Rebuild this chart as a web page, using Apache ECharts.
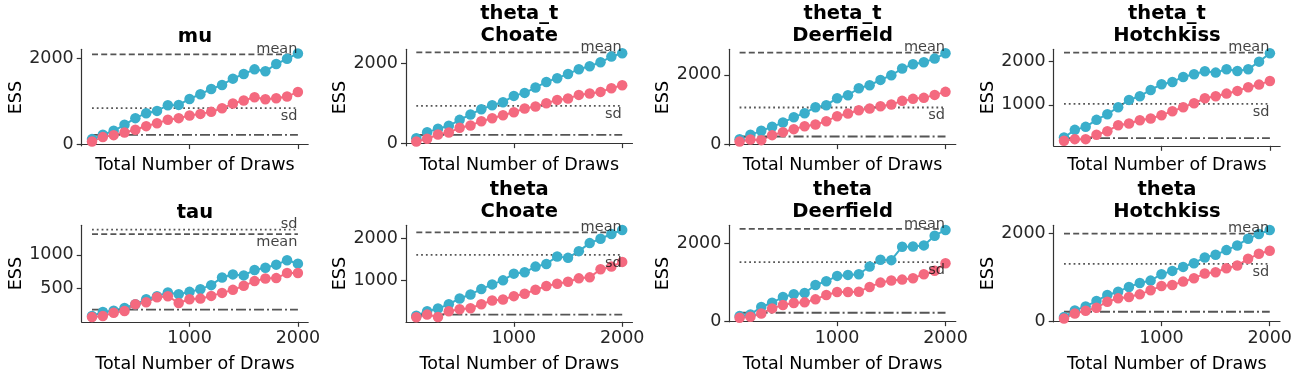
<!DOCTYPE html>
<html>
<head>
<meta charset="utf-8">
<script src="https://cdn.jsdelivr.net/npm/echarts@6/dist/echarts.min.js"></script>
<style>
html,body{margin:0;padding:0;background:#fff;}
#chart{width:1295px;height:376px;}
</style>
</head>
<body>
<div id="chart"></div>
<script>
// x values: total number of draws
const draws = [100,200,300,400,500,600,700,800,900,1000,1100,1200,1300,1400,1500,1600,1700,1800,1900,2000];

const titles = ['mu','theta_t\nChoate','theta_t\nDeerfield','theta_t\nHotchkiss',
                'tau','theta\nChoate','theta\nDeerfield','theta\nHotchkiss'];

// bulk (blue) and tail (red) ESS per panel
const bulk_mu = [116,217,310,450,605,721,775,907,915,1054,1163,1287,1380,1527,1636,1744,1698,1868,1992,2116];
const tail_mu = [62,163,209,271,333,419,488,566,605,667,705,752,837,946,1016,1093,1047,1070,1109,1217];
const bulk_tt_choate = [125,275,358,433,583,717,850,950,1025,1183,1258,1392,1533,1625,1733,1850,1925,2025,2167,2250];
const tail_tt_choate = [42,108,217,267,383,442,550,625,700,775,867,917,1000,1083,1117,1208,1242,1283,1375,1450];
const bulk_tt_deerfield = [144,269,385,500,625,779,894,1067,1125,1327,1413,1615,1702,1856,1990,2183,2308,2365,2471,2625];
const tail_tt_deerfield = [77,135,115,260,346,433,519,567,663,808,885,981,1029,1096,1144,1250,1308,1337,1423,1510];
const bulk_tt_hotchkiss = [246,423,492,654,785,946,1115,1200,1346,1477,1531,1646,1708,1777,1746,1823,1785,1823,2000,2192];
const tail_tt_hotchkiss = [169,208,208,308,392,531,569,646,685,762,854,946,1038,1154,1200,1261,1323,1408,1469,1554];
const bulk_tau = [90,150,170,210,265,340,385,440,415,450,490,550,665,710,695,775,810,855,920,870];
const tail_tau = [75,90,140,165,265,295,370,385,285,340,350,390,435,480,540,610,650,655,730,730];
const bulk_t_choate = [150,256,320,424,560,656,784,896,992,1152,1184,1320,1384,1560,1528,1688,1880,1984,2096,2192];
const tail_t_choate = [115,176,120,256,304,328,424,512,536,616,672,768,856,912,960,1040,1064,1256,1320,1432];
const bulk_t_deerfield = [129,172,361,472,618,687,721,927,1021,1159,1185,1202,1399,1571,1562,1906,1914,1940,2189,2335];
const tail_t_deerfield = [86,112,197,326,412,464,481,558,670,747,747,755,876,987,1039,1064,1099,1202,1288,1485];
const bulk_t_hotchkiss = [92,245,337,460,598,674,782,874,927,1073,1149,1241,1326,1456,1517,1625,1732,1885,1992,2084];
const tail_t_hotchkiss = [61,176,238,307,444,521,552,613,705,805,828,904,981,1088,1119,1211,1272,1425,1540,1609];

// reference lines
const essMean = [2093,2275,2644,2208,1310,2136,2361,2000];
const essSd   = [837,933,1058,1023,1375,1600,1511,1310];
const minEss  = [217,208,221,230,185,176,215,215];

// axis ranges and ticks
const yMin = [-40,-67,-48,54,5,5,-17,-15];
const yMax = [2212,2350,2740,2285,1440,2304,2455,2192];
const yTicks = [[0,2000],[0,2000],[0,2000],[1000,2000],[500,1000],[1000,2000],[0,2000],[0,2000]];
const xTicks = [1000,2000];

const bulkList = [bulk_mu,bulk_tt_choate,bulk_tt_deerfield,bulk_tt_hotchkiss,bulk_tau,bulk_t_choate,bulk_t_deerfield,bulk_t_hotchkiss];
const tailList = [tail_mu,tail_tt_choate,tail_tt_deerfield,tail_tt_hotchkiss,tail_tau,tail_t_choate,tail_t_deerfield,tail_t_hotchkiss];

const FONT = 'DejaVu Sans';
const BLUE = '#3aaecb', RED = '#f4697f', REF = '#555555', SPINE = '#333333', TXT = '#262626';
const lefts = [81.7,406,729.3,1053.7], tops = [49.3,225.3];
const W = 226.5, H = 96.5;

let chart = echarts.init(document.getElementById('chart'));
let grid=[], xAxis=[], yAxis=[], series=[], title=[];
const plain = v => String(v);

for (let i=0;i<8;i++){
  let r = Math.floor(i/4), c = i%4;
  grid.push({left:lefts[c], top:tops[r], width:W, height:H});
  title.push({
    text: titles[i], left: lefts[c]+W/2, textAlign:'center',
    top: titles[i].indexOf('\n')>=0 ? tops[r]-46.5 : tops[r]-23,
    padding:0,
    textStyle:{fontFamily:FONT, fontSize:19.5, fontWeight:'bold', color:'#000', lineHeight:22}
  });
  xAxis.push({
    gridIndex:i, type:'value', min:5, max:2095,
    axisLine:{show:true, lineStyle:{color:SPINE, width:1.2}},
    axisTick:{show:true, customValues:xTicks, length:5, lineStyle:{color:SPINE, width:1.2}},
    axisLabel:{show:r==1, customValues:xTicks, formatter:plain, fontFamily:FONT, fontSize:17.5, color:TXT, margin:8},
    splitLine:{show:false},
    name:'Total Number of Draws', nameLocation:'middle', nameGap: r==0 ? 11 : 34,
    nameTextStyle:{fontFamily:FONT, fontSize:17.5, color:'#000'}
  });
  yAxis.push({
    gridIndex:i, type:'value', min:yMin[i], max:yMax[i],
    axisLine:{show:true, lineStyle:{color:SPINE, width:1.2}},
    axisTick:{show:true, customValues:yTicks[i], length:5, lineStyle:{color:SPINE, width:1.2}},
    axisLabel:{customValues:yTicks[i], formatter:plain, fontFamily:FONT, fontSize:17.5, color:TXT, margin:8},
    splitLine:{show:false},
    name:'ESS', nameLocation:'middle', nameGap:55,
    nameTextStyle:{fontFamily:FONT, fontSize:17.5, color:'#000'}
  });

  const pts = arr => draws.map((d,k)=>[d, arr[k]]);
  const x0 = draws[0], x1 = draws[draws.length-1];
  series.push({
    type:'line', xAxisIndex:i, yAxisIndex:i, data:pts(bulkList[i]),
    symbol:'circle', symbolSize:10.5, color:BLUE, lineStyle:{width:2, color:BLUE},
    itemStyle:{color:BLUE}, silent:true
  });
  series.push({
    type:'line', xAxisIndex:i, yAxisIndex:i, data:pts(tailList[i]),
    symbol:'circle', symbolSize:10.5, color:RED, lineStyle:{width:2, color:RED},
    itemStyle:{color:RED}, silent:true
  });
  const ref = (v, dash) => ({
    type:'line', xAxisIndex:i, yAxisIndex:i, data:[[x0,v],[x1,v]],
    symbol:'none', lineStyle:{width:1.8, color:REF, type:dash}, silent:true
  });
  series.push(ref(essMean[i], [6,3.2]));
  series.push(ref(essSd[i], [1.8,3]));
  series.push(ref(minEss[i], [10,3,2,3]));

  // text labels: upper line gets label above, lower line below
  const meanUp = essMean[i] >= essSd[i];
  const lab = (txt, up) => ({
    show:true, formatter:txt, position: up ? [0,3] : [0,1],
    align:'right', verticalAlign: up ? 'bottom' : 'top',
    fontFamily:FONT, fontSize:14.5, color:'#111'
  });
  series.push({
    type:'scatter', xAxisIndex:i, yAxisIndex:i, symbolSize:1,
    itemStyle:{color:'rgba(0,0,0,0)'}, silent:true, z:5,
    data:[
      {value:[x1, essMean[i]], label:lab('mean', meanUp)},
      {value:[x1, essSd[i]], label:lab('sd', !meanUp)}
    ]
  });
}

chart.setOption({
  animation:false,
  backgroundColor:'#fff',
  title:title, grid:grid, xAxis:xAxis, yAxis:yAxis, series:series
});
</script>
</body>
</html>
